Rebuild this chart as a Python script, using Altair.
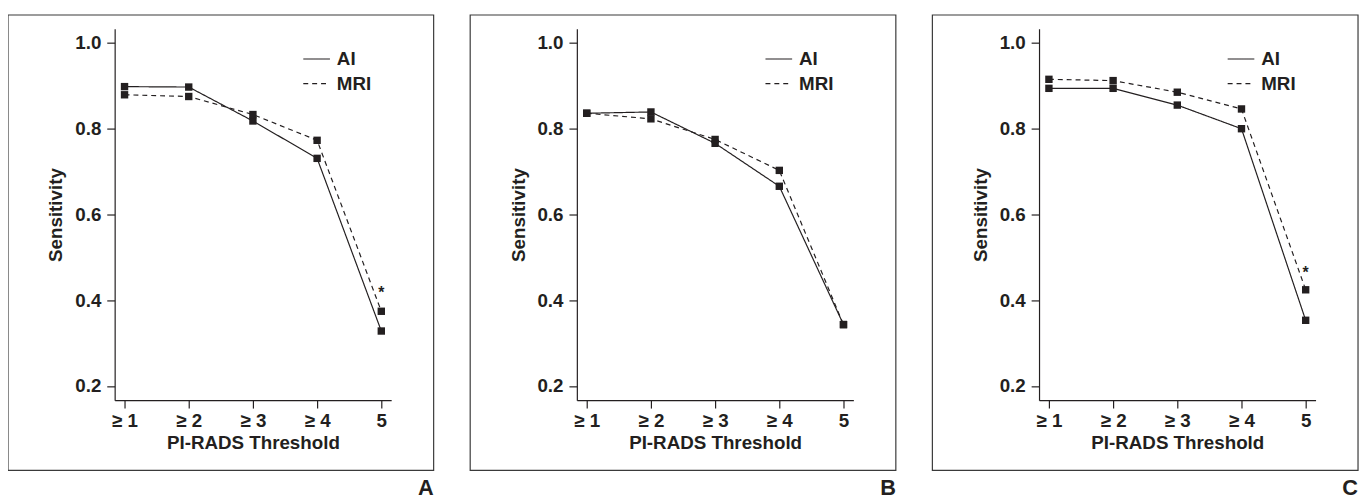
import altair as alt
import pandas as pd

# ---- data ----
thresholds = ["≥ 1", "≥ 2", "≥ 3", "≥ 4", "5"]
series_names = ["AI", "MRI"]
panel_labels = ["A", "B", "C"]

a_ai = [0.897, 0.896, 0.817, 0.730, 0.328]
a_mri = [0.878, 0.874, 0.832, 0.772, 0.374]
b_ai = [0.835, 0.838, 0.765, 0.665, 0.343]
b_mri = [0.835, 0.822, 0.774, 0.702, 0.343]
c_ai = [0.893, 0.893, 0.854, 0.799, 0.353]
c_mri = [0.914, 0.911, 0.884, 0.845, 0.424]

# significance asterisks: (threshold, sensitivity position)
star_a = [("5", 0.425)]
star_b = []
star_c = [("5", 0.471)]

INK = "#231f20"
FONT = "Liberation Sans"
W, H = 280, 376


def panel(label, ai, mri, stars):
    df = pd.DataFrame({
        "threshold": thresholds * 2,
        "series": [series_names[0]] * len(ai) + [series_names[1]] * len(mri),
        "value": ai + mri,
    })
    x = alt.X("threshold:N", sort=thresholds,
              scale=alt.Scale(type="point", padding=0.154),
              axis=alt.Axis(title="PI-RADS Threshold", labelAngle=0))
    y = alt.Y("value:Q",
              scale=alt.Scale(domain=[0.167, 1.0315], nice=False, zero=False),
              axis=alt.Axis(title="Sensitivity", values=[0.2, 0.4, 0.6, 0.8, 1.0], format=".1f"))
    base = alt.Chart(df)
    lines = base.mark_line(color=INK, strokeWidth=1.2).encode(
        x=x, y=y,
        strokeDash=alt.StrokeDash(
            "series:N",
            scale=alt.Scale(domain=series_names, range=[[1, 0], [5, 4]]),
            legend=alt.Legend(title=None, orient="none", legendX=190, legendY=16,
                              symbolType="stroke", symbolSize=729,
                              symbolStrokeWidth=1.2, symbolStrokeColor=INK,
                              labelFont=FONT, labelFontSize=19, labelFontWeight="bold",
                              labelColor=INK, labelOffset=6, rowPadding=-4, padding=0),
        ),
    )
    pts = base.mark_square(size=56, color=INK, opacity=1).encode(x=x, y=y, detail="series:N")
    frame = alt.Chart(pd.DataFrame({"k": [0]})).mark_rect(
        fillOpacity=0, stroke="#3a3a3a", strokeWidth=1.2
    ).encode(x=alt.value(-108), x2=alt.value(323), y=alt.value(-14), y2=alt.value(447))
    lab = alt.Chart(pd.DataFrame({"label": [label]})).mark_text(
        font=FONT, fontSize=22, fontWeight="bold", align="right",
        baseline="alphabetic", color=INK
    ).encode(text="label:N", x=alt.value(323), y=alt.value(472))
    layers = [frame, lines, pts, lab]
    if stars:
        sdf = pd.DataFrame({"threshold": [s[0] for s in stars],
                            "value": [s[1] for s in stars],
                            "mark": ["*"] * len(stars)})
        star = alt.Chart(sdf).mark_text(font=FONT, fontSize=16, fontWeight="bold",
                                        color=INK, baseline="middle", dy=4).encode(
            x=x, y=y, text="mark:N")
        layers.append(star)
    return alt.layer(*layers).properties(width=W, height=H)


chart = alt.hconcat(
    panel(panel_labels[0], a_ai, a_mri, star_a),
    panel(panel_labels[1], b_ai, b_mri, star_b),
    panel(panel_labels[2], c_ai, c_mri, star_c),
    spacing=33,
).resolve_scale(strokeDash="independent").resolve_legend(strokeDash="independent").configure_axis(
    domainColor=INK, domainWidth=1.2, tickColor=INK, tickWidth=1.2, tickSize=8,
    labelColor=INK, labelFont=FONT, labelFontSize=19, labelFontWeight="bold",
    titleColor=INK, titleFont=FONT, titleFontSize=19, titleFontWeight="bold",
    grid=False,
).configure_axisX(labelPadding=4, titlePadding=3).configure_axisY(
    labelPadding=6, titlePadding=9
).configure_view(stroke="transparent").properties(
    padding={"left": -2, "top": 2, "right": 0, "bottom": 0}
)

chart.save("out.html", embed_options={"renderer": "svg", "actions": False})
